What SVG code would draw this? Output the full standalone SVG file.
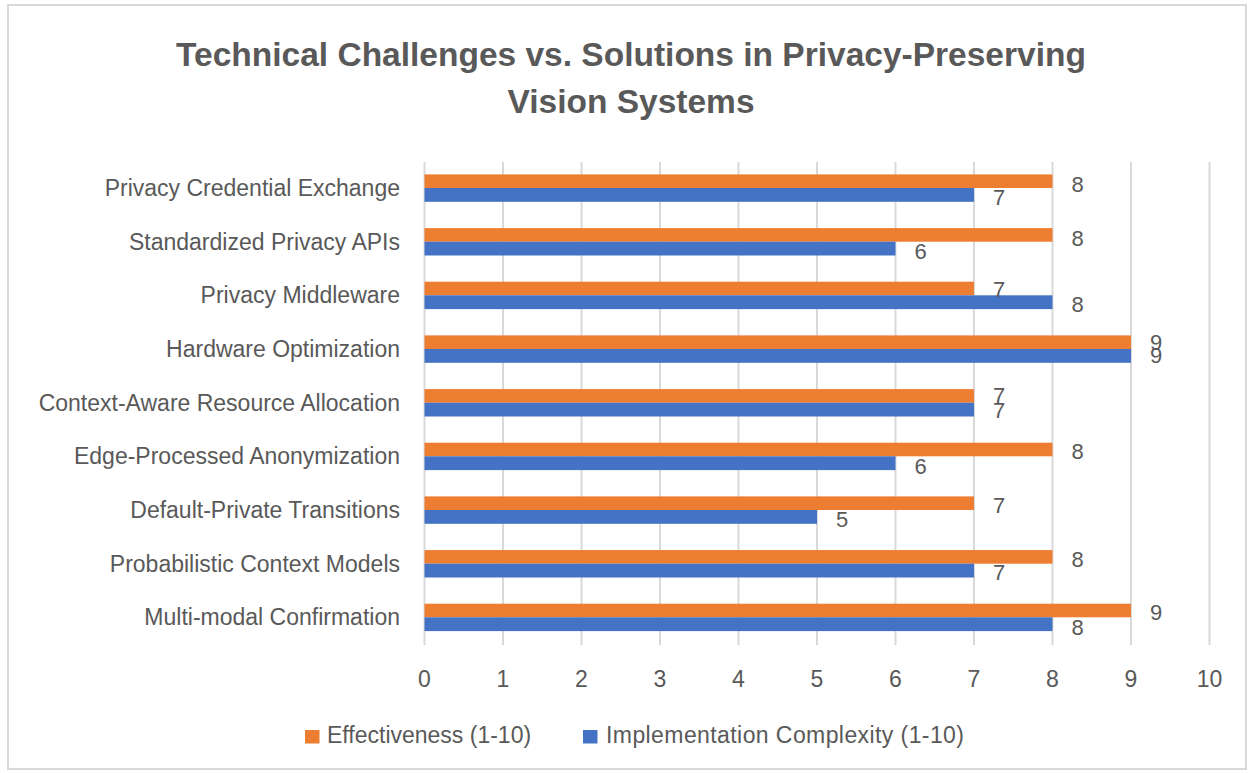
<svg xmlns="http://www.w3.org/2000/svg" width="1250" height="773" viewBox="0 0 1250 773">
<style>
  .t { font-family: "Liberation Sans", Arial, sans-serif; fill: #595959; }
  .title { font-size: 33.5px; font-weight: bold; text-anchor: middle; }
  .cat { font-size: 23px; text-anchor: end; }
  .tick { font-size: 23px; text-anchor: middle; }
  .lbl { font-size: 22px; text-anchor: middle; }
  .leg { font-size: 23px; }
  .grid { stroke: #d9d9d9; stroke-width: 2; }
  .eff { fill: #ED7D31; }
  .imp { fill: #4472C4; }
</style>
<rect x="0" y="0" width="1250" height="773" fill="#ffffff"/>
<rect x="8" y="5" width="1238" height="764" fill="#ffffff" stroke="#d9d9d9" stroke-width="2"/>
<g id="title">
  <text class="t title" x="631" y="66">Technical Challenges vs. Solutions in Privacy-Preserving</text>
  <text class="t title" x="631" y="113">Vision Systems</text>
</g>
<g id="gridlines">
  <line class="grid" x1="424.5" y1="162" x2="424.5" y2="645"/>
  <line class="grid" x1="503" y1="162" x2="503" y2="645"/>
  <line class="grid" x1="581.5" y1="162" x2="581.5" y2="645"/>
  <line class="grid" x1="660" y1="162" x2="660" y2="645"/>
  <line class="grid" x1="738.5" y1="162" x2="738.5" y2="645"/>
  <line class="grid" x1="817" y1="162" x2="817" y2="645"/>
  <line class="grid" x1="895.5" y1="162" x2="895.5" y2="645"/>
  <line class="grid" x1="974" y1="162" x2="974" y2="645"/>
  <line class="grid" x1="1052.5" y1="162" x2="1052.5" y2="645"/>
  <line class="grid" x1="1131" y1="162" x2="1131" y2="645"/>
  <line class="grid" x1="1209.5" y1="162" x2="1209.5" y2="645"/>
</g>
<g id="x-axis-labels">
  <text class="t tick" x="424.5" y="687">0</text>
  <text class="t tick" x="503" y="687">1</text>
  <text class="t tick" x="581.5" y="687">2</text>
  <text class="t tick" x="660" y="687">3</text>
  <text class="t tick" x="738.5" y="687">4</text>
  <text class="t tick" x="817" y="687">5</text>
  <text class="t tick" x="895.5" y="687">6</text>
  <text class="t tick" x="974" y="687">7</text>
  <text class="t tick" x="1052.5" y="687">8</text>
  <text class="t tick" x="1131" y="687">9</text>
  <text class="t tick" x="1209.5" y="687">10</text>
</g>
<g id="cat-privacy-credential-exchange">
  <text class="t cat" x="400" y="196">Privacy Credential Exchange</text>
  <rect class="eff" x="424.5" y="174.4" width="628" height="13.6"/>
  <rect class="imp" x="424.5" y="188" width="549.5" height="13.8"/>
  <text class="t lbl" x="1077.5" y="191.5">8</text>
  <text class="t lbl" x="999" y="205">7</text>
</g>
<g id="cat-standardized-privacy-apis">
  <text class="t cat" x="400" y="249.7">Standardized Privacy APIs</text>
  <rect class="eff" x="424.5" y="228.1" width="628" height="13.6"/>
  <rect class="imp" x="424.5" y="241.7" width="471" height="13.8"/>
  <text class="t lbl" x="1077.5" y="245.5">8</text>
  <text class="t lbl" x="920.5" y="259">6</text>
</g>
<g id="cat-privacy-middleware">
  <text class="t cat" x="400" y="303.3">Privacy Middleware</text>
  <rect class="eff" x="424.5" y="281.7" width="549.5" height="13.6"/>
  <rect class="imp" x="424.5" y="295.3" width="628" height="13.8"/>
  <text class="t lbl" x="999" y="296.7">7</text>
  <text class="t lbl" x="1077.5" y="311.5">8</text>
</g>
<g id="cat-hardware-optimization">
  <text class="t cat" x="400" y="357">Hardware Optimization</text>
  <rect class="eff" x="424.5" y="335.4" width="706.5" height="13.6"/>
  <rect class="imp" x="424.5" y="349" width="706.5" height="13.8"/>
  <text class="t lbl" x="1156" y="350">9</text>
  <text class="t lbl" x="1156" y="363">9</text>
</g>
<g id="cat-context-aware-resource-allocation">
  <text class="t cat" x="400" y="410.7">Context-Aware Resource Allocation</text>
  <rect class="eff" x="424.5" y="389.1" width="549.5" height="13.6"/>
  <rect class="imp" x="424.5" y="402.7" width="549.5" height="13.8"/>
  <text class="t lbl" x="999" y="403.3">7</text>
  <text class="t lbl" x="999" y="418">7</text>
</g>
<g id="cat-edge-processed-anonymization">
  <text class="t cat" x="400" y="464.3">Edge-Processed Anonymization</text>
  <rect class="eff" x="424.5" y="442.7" width="628" height="13.6"/>
  <rect class="imp" x="424.5" y="456.3" width="471" height="13.8"/>
  <text class="t lbl" x="1077.5" y="459.3">8</text>
  <text class="t lbl" x="920.5" y="474">6</text>
</g>
<g id="cat-default-private-transitions">
  <text class="t cat" x="400" y="518">Default-Private Transitions</text>
  <rect class="eff" x="424.5" y="496.4" width="549.5" height="13.6"/>
  <rect class="imp" x="424.5" y="510" width="392.5" height="13.8"/>
  <text class="t lbl" x="999" y="512.7">7</text>
  <text class="t lbl" x="842" y="527">5</text>
</g>
<g id="cat-probabilistic-context-models">
  <text class="t cat" x="400" y="571.7">Probabilistic Context Models</text>
  <rect class="eff" x="424.5" y="550.1" width="628" height="13.6"/>
  <rect class="imp" x="424.5" y="563.7" width="549.5" height="13.8"/>
  <text class="t lbl" x="1077.5" y="566.7">8</text>
  <text class="t lbl" x="999" y="580">7</text>
</g>
<g id="cat-multi-modal-confirmation">
  <text class="t cat" x="400" y="625.3">Multi-modal Confirmation</text>
  <rect class="eff" x="424.5" y="603.7" width="706.5" height="13.6"/>
  <rect class="imp" x="424.5" y="617.3" width="628" height="13.8"/>
  <text class="t lbl" x="1156" y="620">9</text>
  <text class="t lbl" x="1077.5" y="635">8</text>
</g>
<g id="legend">
  <rect class="eff" x="305" y="730" width="14.5" height="13.5"/>
  <text class="t leg" x="327" y="743.3">Effectiveness (1-10)</text>
  <rect class="imp" x="583" y="730" width="14.5" height="13.5"/>
  <text class="t leg" x="606" y="743.3" textLength="358">Implementation Complexity (1-10)</text>
</g>
</svg>
